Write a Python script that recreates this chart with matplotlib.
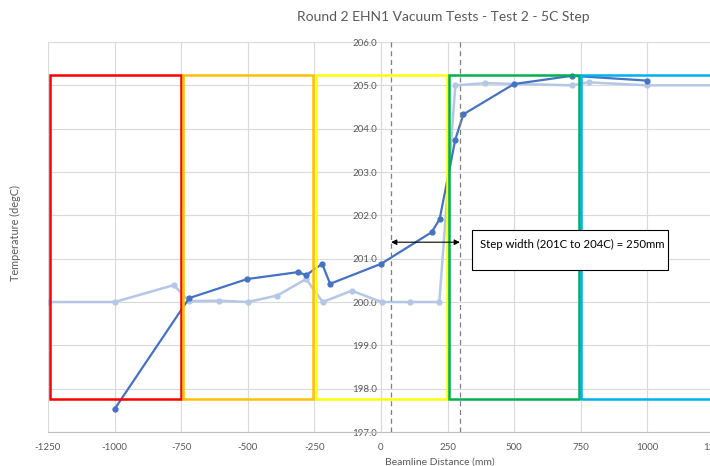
import matplotlib
matplotlib.use("Agg")
import matplotlib.pyplot as plt
from matplotlib.patches import Rectangle

plt.rcParams['font.family'] = ['Lato', 'DejaVu Sans']

title = "Round 2 EHN1 Vacuum Tests - Test 2 - 5C Step"
xlabel = "Beamline Distance (mm)"
ylabel = "Temperature (degC)"
annotation = "Step width (201C to 204C) = 250mm"

# Dark series (measured)
dark_x = [-1000, -720, -502, -311, -281, -221, -191, 0, 190, 220, 279, 309, 499, 717, 997]
dark_y = [197.53, 200.09, 200.53, 200.69, 200.62, 200.88, 200.42, 200.88, 201.61, 201.91,
          203.75, 204.33, 205.03, 205.22, 205.11]

# Light series (reference step)
light_x = [-1250, -1000, -778, -720, -607, -500, -389, -281, -219, -110, 2, 109, 219,
           279, 390, 717, 779, 997, 1250]
light_y = [200.0, 200.0, 200.39, 200.02, 200.03, 200.0, 200.15, 200.53, 200.0, 200.26,
           200.0, 200.0, 200.0, 205.0, 205.05, 205.0, 205.07, 205.0, 205.0]

# Zone boxes (x start, x end) and colours
zone_x0 = [-1242, -742, -244, 255, 750]
zone_x1 = [-750, -255, 247, 742, 1400]
zone_colors = ["#FF0000", "#FFC000", "#FFFF00", "#00B050", "#00B0F0"]
zone_ylo, zone_yhi = 197.76, 205.25

# Step width markers
step_lines = [38, 296]
arrow_y = 201.38

xticks = list(range(-1250, 1251, 250))
yticks = [197 + i for i in range(10)]

fig = plt.figure(figsize=(7.10, 4.66), dpi=100)
ax = fig.add_axes([48/710, 1-432/466, 666/710, 390/466])
ax.set_xlim(-1250, 1250)
ax.set_ylim(197, 206)

ax.set_xticks(xticks)
ax.set_xticklabels([str(t) for t in xticks])
ax.set_yticks(yticks)
ax.set_yticklabels([f"{t:.1f}" for t in yticks])
ax.grid(True, color="#D9D9D9", linewidth=0.8, zorder=0)
ax.set_axisbelow(True)

for s in ['top', 'right']:
    ax.spines[s].set_visible(False)
ax.spines['left'].set_position(('data', 0))
ax.spines['left'].set_color("#D9D9D9")
ax.spines['bottom'].set_color("#BFBFBF")
ax.tick_params(axis='both', length=0, labelsize=7, labelcolor="#595959")
ax.tick_params(axis='x', pad=8)
ax.tick_params(axis='y', pad=3)

ax.plot(light_x, light_y, color="#B4C7E7", linewidth=1.8, marker='o', markersize=3.5, zorder=3)
ax.plot(dark_x, dark_y, color="#4472C4", linewidth=1.6, marker='o', markersize=3.5, zorder=4)

for x0, x1, c in zip(zone_x0, zone_x1, zone_colors):
    ax.add_patch(Rectangle((x0, zone_ylo), x1 - x0, zone_yhi - zone_ylo, fill=False,
                           edgecolor=c, linewidth=1.8, zorder=5, clip_on=True))

for xv in step_lines:
    ax.axvline(xv, color="#7F7F7F", linestyle=(0, (4, 3)), linewidth=0.9, zorder=6)

ax.annotate("", xy=(step_lines[0], arrow_y), xytext=(step_lines[1], arrow_y),
            arrowprops=dict(arrowstyle="<|-|>", color="black", linewidth=0.8,
                            mutation_scale=8, shrinkA=0, shrinkB=0), zorder=7)

ax.add_patch(Rectangle((341, 200.74), 735, 0.92, facecolor="white", edgecolor="black",
                       linewidth=0.8, zorder=7))
ax.text(371, 201.32, annotation, fontsize=8.2, color="black", va='center', ha='left', zorder=8)

ax.set_xlabel(xlabel, fontsize=7.5, color="#595959")
ax.xaxis.set_label_coords((440-48)/666, -0.065)
ax.set_ylabel(ylabel, fontsize=7.8, color="#595959")
ax.yaxis.set_label_coords((21-48)/666, 0.51)

fig.text(443/710, 1-17/466, title, fontsize=10, color="#595959", ha='center', va='center')

fig.savefig("out.png", dpi=100)
